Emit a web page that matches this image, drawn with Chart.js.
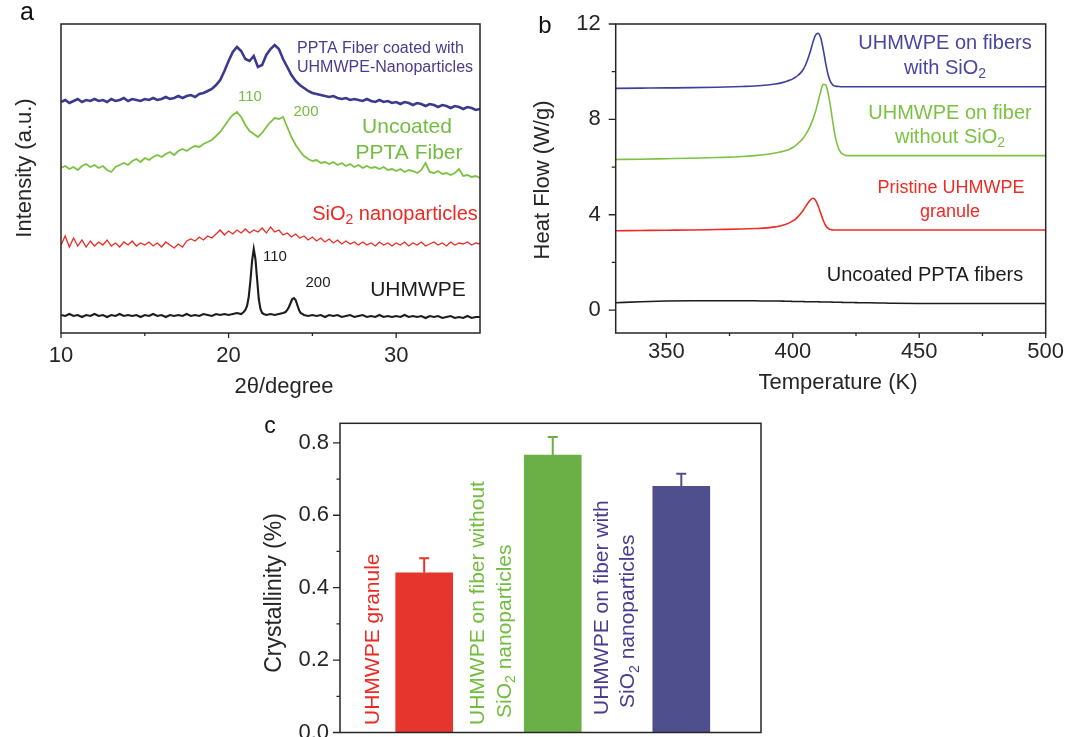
<!DOCTYPE html>
<html><head><meta charset="utf-8">
<script src="https://cdn.jsdelivr.net/npm/chart.js@4.4.1/dist/chart.umd.min.js"></script>
<style>
html,body{margin:0;padding:0;background:#fff;}
body{width:1067px;height:737px;overflow:hidden;position:relative;}
canvas{position:absolute;}
</style></head>
<body>
<canvas id="ca" width="500" height="400" style="left:0;top:0"></canvas>
<canvas id="cb" width="547" height="400" style="left:520px;top:0"></canvas>
<canvas id="cc" width="540" height="360" style="left:250px;top:400px"></canvas>
<script>
// ---------- Panel a: XRD ----------
const xrdTheta = [10,10.25,10.5,10.75,11,11.25,11.5,11.75,12,12.25,12.5,12.75,13,13.25,13.5,13.75,14,14.25,14.5,14.75,15,15.25,15.5,15.75,16,16.25,16.5,16.75,17,17.25,17.5,17.75,18,18.25,18.5,18.75,19,19.25,19.5,19.75,20,20.25,20.5,20.75,21,21.25,21.5,21.75,22,22.25,22.5,22.75,23,23.25,23.5,23.75,24,24.25,24.5,24.75,25,25.25,25.5,25.75,26,26.25,26.5,26.75,27,27.25,27.5,27.75,28,28.25,28.5,28.75,29,29.25,29.5,29.75,30,30.25,30.5,30.75,31,31.25,31.5,31.75,32,32.25,32.5,32.75,33,33.25,33.5,33.75,34,34.25,34.5,34.75,35];
const coatedFiberI = [231,233,230,232,234,231,233,232,234,232,233,231,234,232,233,235,232,234,233,232,234,233,235,233,234,236,234,235,237,235,237,238,236,239,240,242,244,248,253,262,272,281,286,282,274,272,277,266,268,278,284,288,284,274,266,258,252,248,245,242,240,239,238,237,236,237,235,234,235,233,234,233,232,234,232,231,233,231,232,230,231,229,231,230,228,230,229,227,229,228,226,228,227,225,227,226,224,226,225,223,224];
const uncoatedFiberI = [165,167,164,166,163,167,169,166,168,165,167,163,161,166,168,170,168,172,174,171,175,173,176,178,176,179,181,178,182,184,182,185,187,186,189,191,193,197,201,207,213,218,221,216,208,202,199,196,200,206,211,215,214,216,206,196,188,182,177,174,172,173,170,171,169,171,168,170,167,169,166,168,165,167,165,166,164,166,163,164,162,164,161,163,162,160,163,170,161,160,162,159,160,158,160,164,157,158,156,157,155];
const silicaI = [88,97,86,95,87,93,86,92,87,91,88,93,87,90,86,91,88,92,87,90,88,91,87,90,86,91,88,85,89,86,92,94,92,96,93,97,95,99,103,98,102,99,103,100,104,100,103,101,105,100,106,101,103,98,100,96,99,95,97,93,96,92,95,91,94,90,93,89,92,89,91,88,91,88,90,87,91,88,90,87,90,88,91,87,90,88,91,87,89,91,88,90,87,91,88,90,89,91,88,90,89];
const uhmwpeTheta = [10,10.25,10.5,10.75,11,11.25,11.5,11.75,12,12.25,12.5,12.75,13,13.25,13.5,13.75,14,14.25,14.5,14.75,15,15.25,15.5,15.75,16,16.25,16.5,16.75,17,17.25,17.5,17.75,18,18.25,18.5,18.75,19,19.25,19.5,19.75,20,20.25,20.5,20.75,20.9,21,21.1,21.2,21.3,21.4,21.5,21.6,21.7,21.8,21.9,22,22.1,22.25,22.5,22.75,23,23.25,23.4,23.5,23.6,23.7,23.8,23.9,24,24.1,24.2,24.3,24.5,24.75,25,25.25,25.5,25.75,26,26.25,26.5,26.75,27,27.25,27.5,27.75,28,28.25,28.5,28.75,29,29.25,29.5,29.75,30,30.25,30.5,30.75,31,31.25,31.5,31.75,32,32.25,32.5,32.75,33,33.25,33.5,33.75,34,34.25,34.5,34.75,35];
const uhmwpeI = [18,17,19,17,18,16,18,17,19,17,18,16,18,17,19,17,18,17,18,16,18,17,19,17,18,16,18,17,18,17,19,17,18,17,19,18,17,19,18,19,18,19,20,19,21,23,27,36,52,72,84,74,54,34,24,20,19,18,19,18,19,20,21,23,26,30,34,35,33,28,23,20,18,17,18,17,18,16,18,17,18,16,17,18,16,17,18,16,17,16,18,16,17,16,17,16,18,16,17,16,17,15,17,16,17,15,16,17,15,16,15,17,15,16,16];
const xrdTicks = [10,20,30];
const xrdMinorTicks = [15,25];

// ---------- Panel b: DSC ----------
const dscTemp = [330,340,350,360,370,380,385,390,393,395,397,399,400,401,402,403,404,405,406,407,408,409,410,411,412,413,414,415,416,417,418,419,420,421,422,424,426,430,440,450,460,470,480,490,500];
const dscWithSiO2 = [9.30,9.31,9.32,9.33,9.35,9.38,9.40,9.44,9.48,9.52,9.58,9.65,9.70,9.76,9.84,9.94,10.07,10.27,10.54,10.87,11.24,11.53,11.61,11.43,10.96,10.36,9.86,9.56,9.43,9.39,9.38,9.37,9.37,9.37,9.37,9.37,9.37,9.37,9.37,9.37,9.37,9.37,9.37,9.37,9.37];
const dscWithoutSiO2 = [6.32,6.33,6.35,6.37,6.40,6.44,6.48,6.54,6.59,6.63,6.68,6.76,6.82,6.89,6.98,7.08,7.20,7.35,7.53,7.75,8.01,8.33,8.73,9.15,9.47,9.45,9.08,8.48,7.78,7.18,6.81,6.61,6.53,6.49,6.48,6.48,6.48,6.48,6.48,6.48,6.48,6.48,6.48,6.48,6.48];
const dscGranule = [3.33,3.34,3.35,3.36,3.38,3.40,3.42,3.45,3.49,3.53,3.59,3.68,3.74,3.81,3.91,4.03,4.17,4.33,4.49,4.63,4.69,4.61,4.38,4.08,3.78,3.55,3.43,3.38,3.36,3.36,3.36,3.36,3.36,3.36,3.36,3.36,3.36,3.36,3.36,3.36,3.36,3.36,3.36,3.36,3.36];
const dscUncoated = [0.31,0.35,0.38,0.39,0.39,0.39,0.39,0.38,0.38,0.38,0.37,0.37,0.36,0.36,0.36,0.36,0.36,0.35,0.35,0.35,0.35,0.35,0.35,0.34,0.34,0.34,0.34,0.34,0.33,0.33,0.33,0.33,0.32,0.32,0.32,0.32,0.31,0.31,0.29,0.28,0.28,0.28,0.28,0.28,0.28];
const dscTempTicks = [350,400,450,500];
const dscTempMinor = [375,425,475];
const dscHeatTicks = [0,4,8,12];
const dscHeatMinor = [2,6,10];

// ---------- Panel c: crystallinity ----------
const crystCategories = ['UHMWPE granule','UHMWPE on fiber without SiO2 nanoparticles','UHMWPE on fiber with SiO2 nanoparticles'];
const crystPos = [1,2,3];
const crystValues = [0.441,0.766,0.680];
const crystErrors = [0.040,0.050,0.035];
const crystTicks = [0,0.2,0.4,0.6,0.8];
const crystMinor = [0.1,0.3,0.5,0.7];

const FONT = '"Liberation Sans", Arial, Helvetica, sans-serif';
const AXC = '#262626';

function setFont(ctx, size){ ctx.font = size + 'px ' + FONT; }
function text(ctx, s, x, y, size, color, align, base){
  setFont(ctx, size); ctx.fillStyle = color;
  ctx.textAlign = align || 'center'; ctx.textBaseline = base || 'middle';
  ctx.fillText(s, x, y);
}
// parts: [[string, isSub], ...]
function rich(ctx, parts, x, y, size, color, align){
  const sub = Math.round(size * 0.68);
  let w = 0;
  parts.forEach(p => { setFont(ctx, p[1] ? sub : size); w += ctx.measureText(p[0]).width; });
  let cx = align === 'left' ? x : (align === 'right' ? x - w : x - w / 2);
  ctx.fillStyle = color; ctx.textAlign = 'left'; ctx.textBaseline = 'middle';
  parts.forEach(p => {
    setFont(ctx, p[1] ? sub : size);
    ctx.fillText(p[0], cx, y + (p[1] ? size * 0.3 : 0));
    cx += ctx.measureText(p[0]).width;
  });
}
function vtext(ctx, s, x, y, size, color){
  ctx.save(); ctx.translate(x, y); ctx.rotate(-Math.PI/2);
  text(ctx, s, 0, 0, size, color, 'center', 'middle'); ctx.restore();
}
function frame(chart){
  const a = chart.chartArea, ctx = chart.ctx;
  ctx.save(); ctx.strokeStyle = AXC; ctx.lineWidth = 1.5;
  ctx.strokeRect(a.left, a.top, a.right - a.left, a.bottom - a.top); ctx.restore();
}
function xTicks(chart, vals, len){
  const s = chart.scales.x, ctx = chart.ctx, b = chart.chartArea.bottom;
  ctx.save(); ctx.strokeStyle = AXC; ctx.lineWidth = 1.3; ctx.beginPath();
  vals.forEach(v => { const p = s.getPixelForValue(v); ctx.moveTo(p, b); ctx.lineTo(p, b + len); });
  ctx.stroke(); ctx.restore();
}
function yTicks(chart, vals, len){
  const s = chart.scales.y, ctx = chart.ctx, l = chart.chartArea.left;
  ctx.save(); ctx.strokeStyle = AXC; ctx.lineWidth = 1.3; ctx.beginPath();
  vals.forEach(v => { const p = s.getPixelForValue(v); ctx.moveTo(l, p); ctx.lineTo(l - len, p); });
  ctx.stroke(); ctx.restore();
}
const tickFont = {family: FONT, size: 22};
const commonPlugins = {legend:{display:false}, tooltip:{enabled:false}};

// ---------- Chart a ----------
const colA = {blue:'#3a3a8e', green:'#7cc242', red:'#ee2b24', black:'#1c1c1c'};
function pts(xs, ys){ return xs.map((x,i)=>({x:x, y:ys[i]})); }
new Chart(document.getElementById('ca'), {
  type:'line',
  data:{datasets:[
    {label:'PPTA Fiber coated with UHMWPE-Nanoparticles', data:pts(xrdTheta, coatedFiberI), borderColor:colA.blue, borderWidth:2.6},
    {label:'Uncoated PPTA Fiber', data:pts(xrdTheta, uncoatedFiberI), borderColor:colA.green, borderWidth:1.8},
    {label:'SiO2 nanoparticles', data:pts(xrdTheta, silicaI), borderColor:colA.red, borderWidth:1.3},
    {label:'UHMWPE', data:pts(uhmwpeTheta, uhmwpeI), borderColor:colA.black, borderWidth:2.1}
  ]},
  options:{
    responsive:false, animation:false,
    layout:{padding:{left:0, top:24, right:20, bottom:0}},
    plugins:commonPlugins,
    elements:{point:{radius:0}, line:{tension:0}},
    scales:{
      x:{type:'linear', min:10, max:35,
        afterBuildTicks:s=>{ s.ticks = xrdTicks.map(v=>({value:v})); },
        afterFit:s=>{ s.height = 67; },
        grid:{display:false}, border:{display:false},
        ticks:{font:tickFont, color:AXC, padding:2, maxRotation:0, autoSkip:false}},
      y:{type:'linear', min:0, max:309,
        afterFit:s=>{ s.width = 61; },
        grid:{display:false}, border:{display:false}, ticks:{display:false}}
    }
  },
  plugins:[{id:'deco', afterDraw(chart){
    const ctx = chart.ctx;
    frame(chart); xTicks(chart, xrdTicks, 5); xTicks(chart, xrdMinorTicks, 3);
    text(ctx, 'a', 27, 20, 25, '#111', 'center', 'alphabetic');
    vtext(ctx, 'Intensity (a.u.)', 25, 168, 22, AXC);
    text(ctx, '2θ/degree', 284, 387, 22, AXC);
    text(ctx, 'PPTA Fiber coated with', 297, 49, 16, '#4b3b8c', 'left');
    text(ctx, 'UHMWPE-Nanoparticles', 297, 68, 16, '#4b3b8c', 'left');
    text(ctx, '110', 250, 97, 15, '#72bd3f');
    text(ctx, '200', 306, 112, 15, '#72bd3f');
    text(ctx, 'Uncoated', 407, 127, 21, '#72bd3f');
    text(ctx, 'PPTA Fiber', 409, 153, 21, '#72bd3f');
    rich(ctx, [['SiO',0],['2',1],[' nanoparticles',0]], 395, 214, 20, '#ec2a23', 'center');
    text(ctx, '110', 275, 257, 15, '#1c1c1c');
    text(ctx, '200', 318, 283, 15, '#1c1c1c');
    text(ctx, 'UHMWPE', 418, 290, 21, '#1c1c1c');
  }}]
});

// ---------- Chart b ----------
new Chart(document.getElementById('cb'), {
  type:'line',
  data:{datasets:[
    {label:'UHMWPE on fibers with SiO2', data:pts(dscTemp, dscWithSiO2), borderColor:'#3f3f9c', borderWidth:1.6},
    {label:'UHMWPE on fiber without SiO2', data:pts(dscTemp, dscWithoutSiO2), borderColor:'#7dc242', borderWidth:1.6},
    {label:'Pristine UHMWPE granule', data:pts(dscTemp, dscGranule), borderColor:'#ee2b24', borderWidth:1.6},
    {label:'Uncoated PPTA fibers', data:pts(dscTemp, dscUncoated), borderColor:'#1c1c1c', borderWidth:1.6}
  ]},
  options:{
    responsive:false, animation:false,
    layout:{padding:{left:0, top:24, right:21.3, bottom:0}},
    plugins:commonPlugins,
    elements:{point:{radius:0}, line:{tension:0.35, cubicInterpolationMode:'monotone'}},
    scales:{
      x:{type:'linear', min:330, max:500,
        afterBuildTicks:s=>{ s.ticks = dscTempTicks.map(v=>({value:v})); },
        afterFit:s=>{ s.height = 67; },
        grid:{display:false}, border:{display:false},
        ticks:{font:tickFont, color:AXC, padding:-2, maxRotation:0, autoSkip:false}},
      y:{type:'linear', min:-0.96, max:12,
        afterBuildTicks:s=>{ s.ticks = dscHeatTicks.map(v=>({value:v})); },
        afterFit:s=>{ s.width = 95.7; },
        grid:{display:false}, border:{display:false},
        ticks:{font:tickFont, color:AXC, padding:7, autoSkip:false}}
    }
  },
  plugins:[{id:'deco', afterDraw(chart){
    const ctx = chart.ctx;
    frame(chart);
    xTicks(chart, dscTempTicks, 5); xTicks(chart, dscTempMinor, 3);
    yTicks(chart, dscHeatTicks, 7); yTicks(chart, dscHeatMinor, 4);
    text(ctx, 'b', 25, 33, 24, '#111', 'center', 'alphabetic');
    vtext(ctx, 'Heat Flow (W/g)', 23, 180, 22, AXC);
    text(ctx, 'Temperature (K)', 318, 383, 22, AXC);
    text(ctx, 'UHMWPE on fibers', 425, 43, 20, '#4a46a0');
    rich(ctx, [['with SiO',0],['2',1]], 425, 68, 20, '#4a46a0', 'center');
    text(ctx, 'UHMWPE on fiber', 430, 113, 20, '#7cc242');
    rich(ctx, [['without SiO',0],['2',1]], 430, 137, 20, '#7cc242', 'center');
    text(ctx, 'Pristine UHMWPE', 431, 188, 18, '#ee2b24');
    text(ctx, 'granule', 430, 212, 18, '#ee2b24');
    text(ctx, 'Uncoated PPTA fibers', 405, 275, 20, '#1c1c1c');
  }}]
});

// ---------- Chart c ----------
const barColors = ['#e5352d','#6ab046','#4f4f8e'];
const labelColors = ['#ec2a23','#72bd3f','#4a3d8f'];
new Chart(document.getElementById('cc'), {
  type:'bar',
  data:{datasets:[{label:'Crystallinity', data:pts(crystPos, crystValues), backgroundColor:barColors, borderWidth:0, barThickness:57}]},
  options:{
    responsive:false, animation:false,
    layout:{padding:{left:0, top:23.3, right:29, bottom:27.5}},
    plugins:commonPlugins,
    scales:{
      x:{type:'linear', min:0.345, max:3.62, offset:false, display:false},
      y:{type:'linear', min:0, max:0.854,
        afterBuildTicks:s=>{ s.ticks = crystTicks.map(v=>({value:v})); },
        afterFit:s=>{ s.width = 90; },
        grid:{display:false}, border:{display:false},
        ticks:{font:tickFont, color:AXC, padding:3, autoSkip:false, callback:v=>Number(v).toFixed(1)}}
    }
  },
  plugins:[{id:'deco', afterDatasetsDraw(chart){
    const ctx = chart.ctx, xs = chart.scales.x, ys = chart.scales.y;
    ctx.save(); ctx.lineWidth = 2;
    crystPos.forEach((p,i)=>{
      const x = xs.getPixelForValue(p), y0 = ys.getPixelForValue(crystValues[i]), y1 = ys.getPixelForValue(crystValues[i] + crystErrors[i]);
      ctx.strokeStyle = barColors[i]; ctx.beginPath();
      ctx.moveTo(x, y0); ctx.lineTo(x, y1); ctx.moveTo(x - 5, y1); ctx.lineTo(x + 5, y1); ctx.stroke();
    });
    ctx.restore();
  }, afterDraw(chart){
    const ctx = chart.ctx, xs = chart.scales.x;
    frame(chart);
    yTicks(chart, crystTicks, 7); yTicks(chart, crystMinor, 3.5);
    text(ctx, 'c', 20, 33, 23, '#111', 'center', 'alphabetic');
    vtext(ctx, 'Crystallinity (%)', 25, 193, 23, AXC);
    const lines = [
      [[-50.5, 325, [['UHMWPE granule',0]]]],
      [[-74.2, 325, [['UHMWPE on fiber without',0]]], [-47.5, 318, [['SiO',0],['2',1],[' nanoparticles',0]]]],
      [[-79.3, 315, [['UHMWPE on fiber with',0]]], [-52.7, 308, [['SiO',0],['2',1],[' nanoparticles',0]]]]
    ];
    crystPos.forEach((p,i)=>{
      const cx = xs.getPixelForValue(p);
      lines[i].forEach(l=>{
        ctx.save(); ctx.translate(cx + l[0], l[1]); ctx.rotate(-Math.PI/2);
        rich(ctx, l[2], 0, 0, 21, labelColors[i], 'left'); ctx.restore();
      });
    });
  }}]
});
</script>
</body></html>
